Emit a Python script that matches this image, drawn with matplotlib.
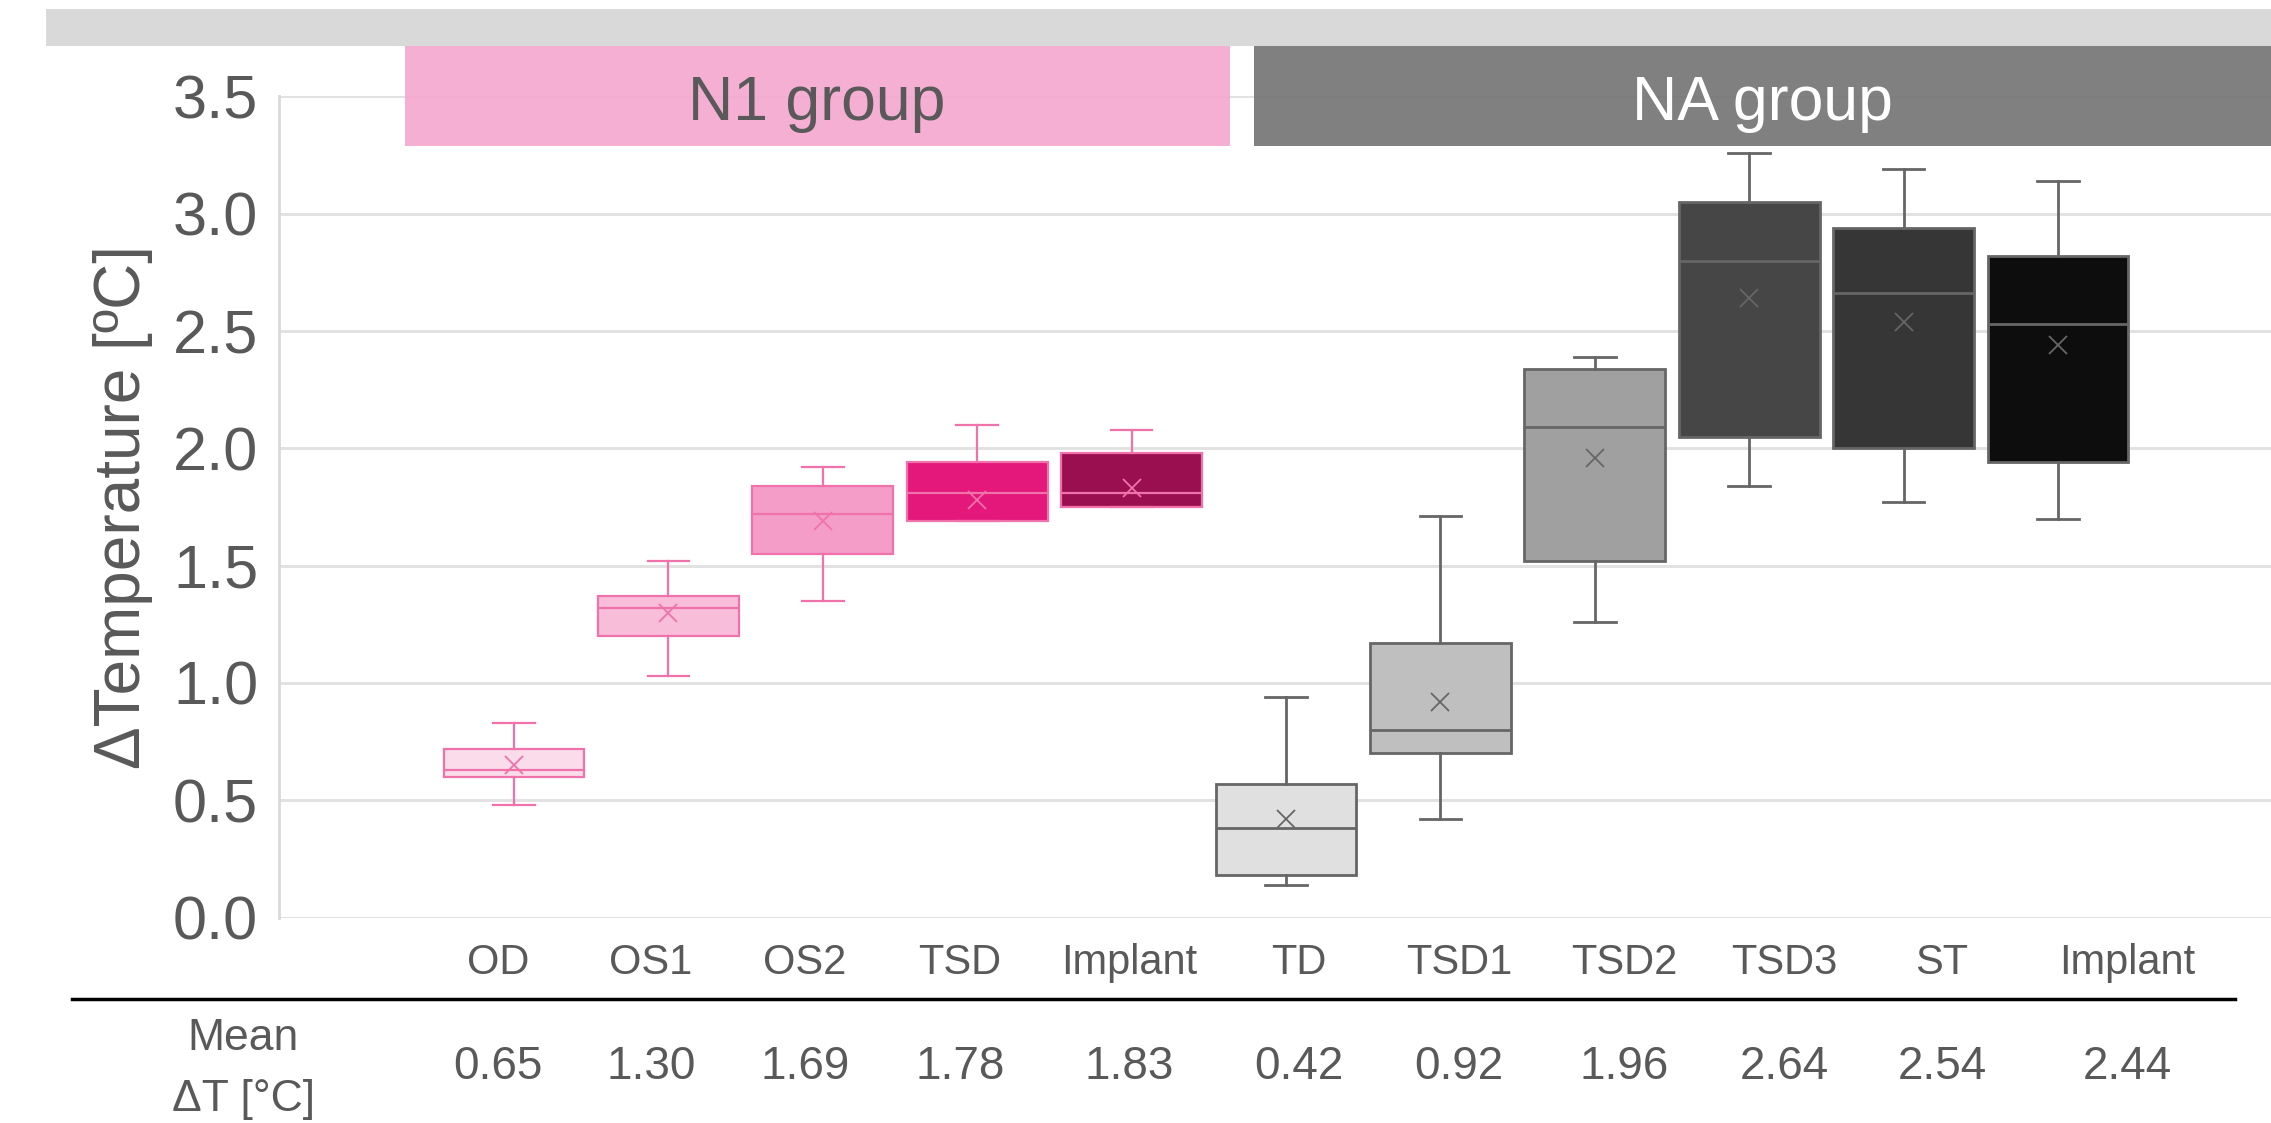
import matplotlib
matplotlib.use("Agg")
import matplotlib.pyplot as plt
from matplotlib.patches import Rectangle
from matplotlib.lines import Line2D

plt.rcParams['font.family'] = ['Liberation Sans', 'DejaVu Sans']

# ---------------- data ----------------
categories = ["OD", "OS1", "OS2", "TSD", "Implant",
              "TD", "TSD1", "TSD2", "TSD3", "ST", "Implant"]
whisker_low = [0.48, 1.03, 1.35, 1.69, 1.75, 0.14, 0.42, 1.26, 1.84, 1.77, 1.70]
q1 =          [0.60, 1.20, 1.55, 1.69, 1.75, 0.18, 0.70, 1.52, 2.05, 2.00, 1.94]
median =      [0.63, 1.32, 1.72, 1.81, 1.81, 0.38, 0.80, 2.09, 2.80, 2.66, 2.53]
q3 =          [0.72, 1.37, 1.84, 1.94, 1.98, 0.57, 1.17, 2.34, 3.05, 2.94, 2.82]
whisker_high= [0.83, 1.52, 1.92, 2.10, 2.08, 0.94, 1.71, 2.39, 3.26, 3.19, 3.14]
means =       [0.65, 1.30, 1.69, 1.78, 1.83, 0.42, 0.92, 1.96, 2.64, 2.54, 2.44]
mean_labels = ["0.65", "1.30", "1.69", "1.78", "1.83",
               "0.42", "0.92", "1.96", "2.64", "2.54", "2.44"]
groups = ["N1 group", "NA group"]
y_ticks = [0.0, 0.5, 1.0, 1.5, 2.0, 2.5, 3.0, 3.5]

# ---------------- styles ----------------
face_colors = ["#fbdcea", "#f8bdd9", "#f49dc8", "#e4177b", "#9a0f50",
               "#e0e0e0", "#bfbfbf", "#a0a0a0", "#464646", "#363636", "#0d0d0d"]
pink_edge = "#f072aa"
gray_edge = "#666666"
edge_colors = [pink_edge] * 5 + [gray_edge] * 6
text_color = "#595959"

W, H = 2271, 1123
fig = plt.figure(figsize=(W / 100, H / 100), dpi=100)
fig.patch.set_facecolor("white")

def fx(px):
    return px / W

def fy(py):
    return 1 - py / H

ax_left, ax_right, ax_top, ax_bot = 279, 2271, 96.4, 917.5
ax = fig.add_axes([fx(ax_left), fy(ax_bot), fx(ax_right - ax_left), (ax_bot - ax_top) / H])
ax.patch.set_alpha(0)

center0, spacing = 514, 154.4
ax.set_xlim((ax_left - center0) / spacing, (ax_right - center0) / spacing)
ax.set_ylim(0, 3.5)

positions = list(range(len(categories)))
stats = []
for i in positions:
    stats.append(dict(whislo=whisker_low[i], q1=q1[i], med=median[i], q3=q3[i],
                      whishi=whisker_high[i], mean=means[i], fliers=[]))

for i in positions:
    ec = edge_colors[i]
    lw = 1.6 if i < 5 else 2.0
    ax.bxp([stats[i]], positions=[i], widths=0.913, capwidths=0.27,
           showmeans=True, showfliers=False, patch_artist=True,
           boxprops=dict(facecolor=face_colors[i], edgecolor=ec, linewidth=lw),
           medianprops=dict(color=ec, linewidth=lw),
           whiskerprops=dict(color=ec, linewidth=lw),
           capprops=dict(color=ec, linewidth=lw),
           meanprops=dict(marker='x', markeredgecolor=ec, markerfacecolor=ec,
                          markersize=13, markeredgewidth=1.3),
           zorder=3)

ax.set_yticks(y_ticks)
ax.set_yticklabels([f"{v:.1f}" for v in y_ticks])
ax.set_xticks([])
ax.tick_params(axis='y', length=0, pad=15, labelsize=44, labelcolor=text_color)
ax.yaxis.grid(True, color="#e2e2e2", linewidth=2.2)
ax.set_axisbelow(True)
for s in ["top", "right", "bottom"]:
    ax.spines[s].set_visible(False)
ax.spines["left"].set_color("#d9d9d9")
ax.spines["left"].set_linewidth(2)

ax.set_ylabel("ΔTemperature [ºC]", fontsize=46, color=text_color, labelpad=14)

# ---------------- header bars ----------------
fig.patches.append(Rectangle((fx(46), fy(46)), fx(W - 46), (46 - 9) / H,
                             transform=fig.transFigure, facecolor="#d9d9d9",
                             edgecolor="none", zorder=5))
fig.patches.append(Rectangle((fx(405), fy(146)), fx(1230 - 405), 100 / H,
                             transform=fig.transFigure, facecolor="#f4a6ce",
                             alpha=0.9, edgecolor="none", zorder=5))
fig.patches.append(Rectangle((fx(1254), fy(146)), fx(W - 1254), 100 / H,
                             transform=fig.transFigure, facecolor="#727272",
                             alpha=0.9, edgecolor="none", zorder=5))
fig.text(fx(817), fy(120), groups[0], ha="center", va="baseline",
         fontsize=45, color=text_color, zorder=6)
fig.text(fx(1762), fy(120), groups[1], ha="center", va="baseline",
         fontsize=45, color="white", zorder=6)

# ---------------- table below ----------------
label_x = [498, 651, 805, 960, 1129, 1299, 1459, 1624, 1784, 1942, 2127]
for i, lab in enumerate(categories):
    fig.text(fx(label_x[i]), fy(963), lab, ha="center", va="center",
             fontsize=30, color=text_color)
    fig.text(fx(label_x[i]), fy(1067), mean_labels[i], ha="center", va="center",
             fontsize=33, color=text_color)

fig.lines.append(Line2D([fx(72), fx(2235)], [fy(999), fy(999)],
                        transform=fig.transFigure, color="black", linewidth=2.5))
fig.text(fx(243), fy(1039), "Mean", ha="center", va="center",
         fontsize=32, color=text_color)
fig.text(fx(243), fy(1099), "ΔT [°C]", ha="center", va="center",
         fontsize=32, color=text_color)

fig.savefig("out.png", dpi=100)
